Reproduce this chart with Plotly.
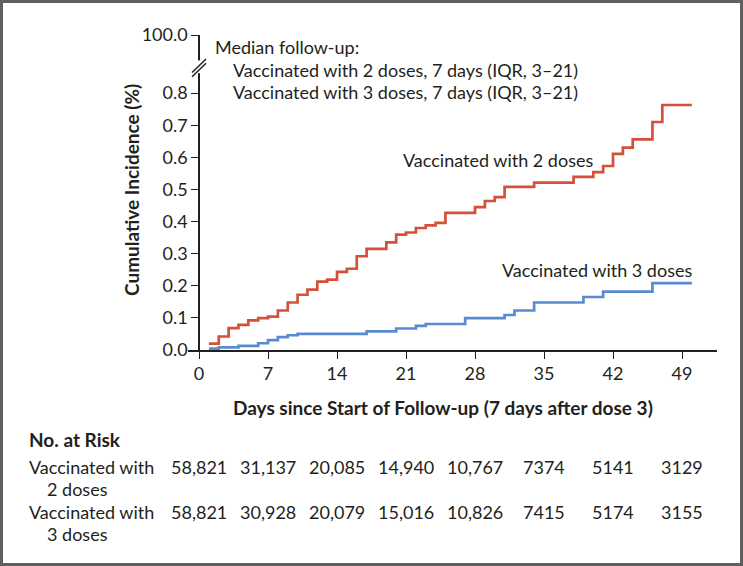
import plotly.graph_objects as go

# ---------------- data ----------------
red_days = [1, 2, 3, 4, 5, 6, 7, 8, 9, 10, 11, 12, 13, 14, 15, 16, 17, 19, 20, 21, 22, 23, 24, 25,
            28, 29, 30, 31, 34, 38, 40, 41, 42, 43, 44, 46, 47, 50]
red_vals = [0.020, 0.042, 0.068, 0.078, 0.092, 0.099, 0.104, 0.123, 0.148, 0.172, 0.188, 0.213, 0.219,
            0.243, 0.253, 0.292, 0.315, 0.335, 0.359, 0.366, 0.380, 0.388, 0.396, 0.427,
            0.445, 0.464, 0.476, 0.508, 0.521, 0.539, 0.554, 0.573, 0.611, 0.630, 0.656, 0.710, 0.763, 0.763]

blue_days = [1, 2, 4, 6, 7, 8, 9, 10, 17, 20, 22, 23, 27, 31, 32, 34, 39, 41, 46, 50]
blue_vals = [0.004, 0.008, 0.013, 0.021, 0.031, 0.040, 0.046, 0.050, 0.058, 0.067, 0.075, 0.081,
             0.099, 0.109, 0.123, 0.148, 0.165, 0.182, 0.208, 0.208]

x_ticks = [0, 7, 14, 21, 28, 35, 42, 49]
y_ticks = [0.0, 0.1, 0.2, 0.3, 0.4, 0.5, 0.6, 0.7, 0.8]
y_tick_labels = ["0.0", "0.1", "0.2", "0.3", "0.4", "0.5", "0.6", "0.7", "0.8"]
y_top_label = "100.0"

risk_row_labels = [("Vaccinated with", "2 doses"), ("Vaccinated with", "3 doses")]
risk_2_doses = ["58,821", "31,137", "20,085", "14,940", "10,767", "7374", "5141", "3129"]
risk_3_doses = ["58,821", "30,928", "20,079", "15,016", "10,826", "7415", "5174", "3155"]

# ---------------- layout geometry ----------------
W_PX, H_PX = 743, 566
L, R = 188, 717          # plot area left/right (px)
T, B = 35, 350           # plot area top/bottom (px)
XMIN, XMAX = -1.12, 52.55
YMIN, YTOP = 0.0, 0.981  # YTOP represents 100.0 (broken axis)

PW, PH = R - L, B - T

def px_x(px):
    return (px - L) / PW

def px_y(py):
    return (B - py) / PH

FONT = "Lato"
TXT = "#231f20"
RED = "#d4503a"
BLUE = "#5a8bd0"
FS = 18
FS_B = 19

fig = go.Figure()
fig.add_trace(go.Scatter(x=red_days, y=red_vals, mode="lines", line=dict(color=RED, width=2.7, shape="hv"),
                         hoverinfo="skip", showlegend=False))
fig.add_trace(go.Scatter(x=blue_days, y=blue_vals, mode="lines", line=dict(color=BLUE, width=2.7, shape="hv"),
                         hoverinfo="skip", showlegend=False))

yaxis_pos = (0 - XMIN) / (XMAX - XMIN)

fig.update_layout(
    width=W_PX, height=H_PX,
    margin=dict(l=L, r=W_PX - R, t=T, b=H_PX - B, pad=0),
    paper_bgcolor="white", plot_bgcolor="white",
    font=dict(family=FONT, size=FS, color=TXT),
    xaxis=dict(range=[XMIN, XMAX], tickvals=x_ticks, ticks="outside", ticklen=7, tickwidth=1.3,
               tickcolor=TXT, showline=True, linecolor=TXT, linewidth=1.5, showgrid=False,
               zeroline=False, tickfont=dict(size=FS, color=TXT, family=FONT), fixedrange=True),
    yaxis=dict(range=[YMIN, YTOP], tickvals=y_ticks + [YTOP], ticktext=y_tick_labels + [y_top_label],
               ticks="outside", ticklen=7, tickwidth=1.3, tickcolor=TXT, showline=True, linecolor=TXT,
               linewidth=1.5, showgrid=False, zeroline=False, anchor="free", position=yaxis_pos,
               tickfont=dict(size=FS, color=TXT, family=FONT), fixedrange=True),
)

# broken axis: white gap + two slashes
gap_lo, gap_hi = 0.862, 0.902
fig.add_shape(type="rect", xref="paper", yref="y", x0=yaxis_pos - 0.01, x1=yaxis_pos + 0.01,
              y0=gap_lo, y1=gap_hi, fillcolor="white", line=dict(width=0), layer="above")
dx = 7 / PW
for off in (-0.004, 0.009):
    fig.add_shape(type="line", xref="paper", yref="y",
                  x0=yaxis_pos - dx, y0=0.855 + off, x1=yaxis_pos + dx, y1=0.897 + off,
                  line=dict(color=TXT, width=1.5), layer="above")


def ann(text, px, py, xanchor="left", xref="paper", **kw):
    x = px_x(px) if xref == "paper" else px
    return dict(text=text, x=x, y=px_y(py), xref=xref, yref="paper", xanchor=xanchor,
                yanchor="middle", showarrow=False, **kw)


annotations = []
# axis titles
annotations.append(ann("<b>Cumulative Incidence (%)</b>", 131, 190, xanchor="center", textangle=-90,
                       font=dict(size=FS_B)))
annotations.append(ann("<b>Days since Start of Follow-up (7 days after dose 3)</b>", 443, 407,
                       xanchor="center", font=dict(size=FS_B)))
# median follow-up text
annotations.append(ann("Median follow-up:", 213, 47))
annotations.append(ann("Vaccinated with 2 doses, 7 days (IQR, 3–21)", 231, 70))
annotations.append(ann("Vaccinated with 3 doses, 7 days (IQR, 3–21)", 231, 92))
# curve labels
annotations.append(ann("Vaccinated with 2 doses", 595, 160, xanchor="right"))
annotations.append(ann("Vaccinated with 3 doses", 694, 270, xanchor="right"))
# risk table
annotations.append(ann("<b>No. at Risk</b>", 27, 440, font=dict(size=FS_B)))
rows = [risk_2_doses, risk_3_doses]
row_y = [467, 512]
for (l1, l2), vals, ry in zip(risk_row_labels, rows, row_y):
    annotations.append(ann(l1, 27, ry))
    annotations.append(ann(l2, 45, ry + 22))
    for xv, v in zip(x_ticks, vals):
        annotations.append(ann(v, xv, ry, xanchor="center", xref="x"))

fig.update_layout(annotations=annotations)

# outer frame
fig.add_shape(type="rect", xref="paper", yref="paper", x0=px_x(1.5), x1=px_x(W_PX - 1.5),
              y0=px_y(H_PX - 1.5), y1=px_y(1.5), line=dict(color="#5f5f5f", width=3),
              fillcolor="rgba(0,0,0,0)", layer="above")

fig.write_html("out.html", config={"displayModeBar": False},
               post_script="document.body.style.margin='0';document.body.style.overflow='hidden';")
